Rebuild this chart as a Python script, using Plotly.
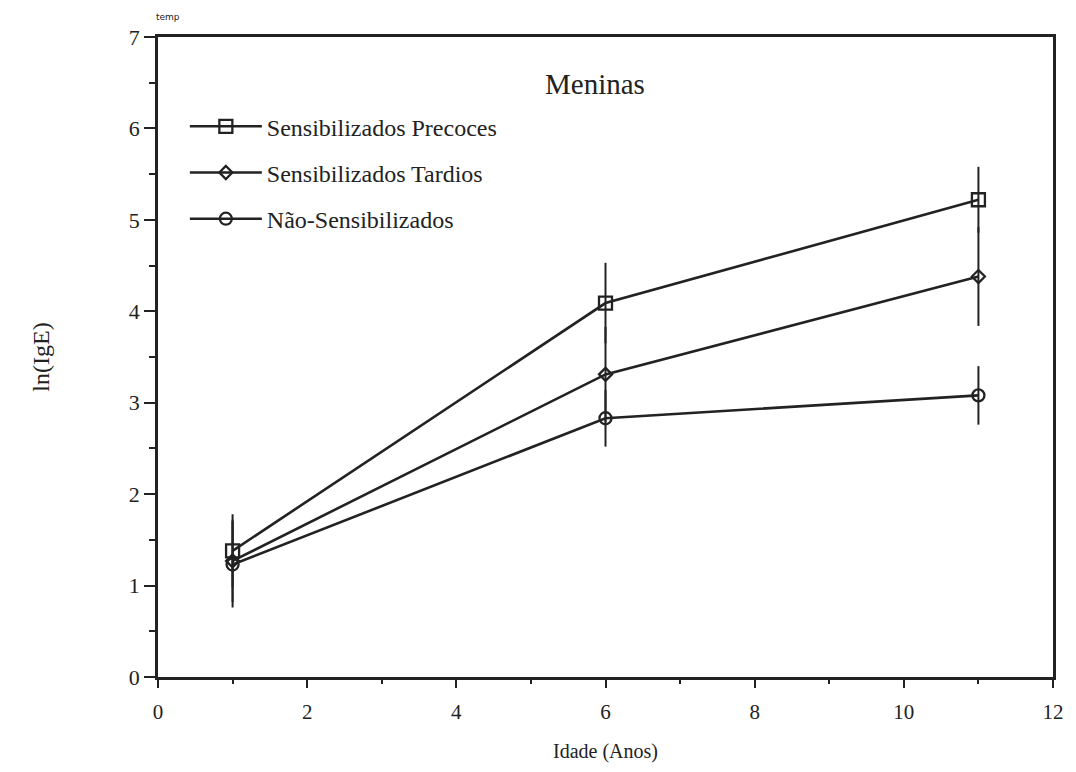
import plotly.graph_objects as go

ages = [1, 6, 11]
precoces = [1.38, 4.09, 5.22]
precoces_err = [0.40, 0.44, 0.36]
tardios = [1.27, 3.31, 4.38]
tardios_err = [0.45, 0.52, 0.54]
nao_sens = [1.23, 2.83, 3.08]
nao_sens_err = [0.47, 0.31, 0.32]

names = ["Sensibilizados Precoces", "Sensibilizados Tardios", "Não-Sensibilizados"]
symbols = ["square-open", "diamond-open", "circle-open"]
sizes = [13, 10, 12]
series = [precoces, tardios, nao_sens]
errors = [precoces_err, tardios_err, nao_sens_err]

ink = "#222222"
font = "Liberation Serif, Times New Roman, serif"

fig = go.Figure()
for i, (name, ys, es) in enumerate(zip(names, series, errors)):
    fig.add_trace(go.Scatter(
        x=ages, y=ys, name=name, mode="lines+markers",
        legendgroup=f"g{i}",
        line=dict(color=ink, width=2.6),
        marker=dict(symbol=symbols[i], size=sizes[i], color=ink,
                    line=dict(color=ink, width=2.3)),
        error_y=dict(type="data", array=es, color=ink, thickness=2, width=0),
    ))

fig.update_layout(
    width=1076, height=772,
    margin=dict(l=158, r=19, t=37, b=90),
    paper_bgcolor="white", plot_bgcolor="white",
    font=dict(family=font, color=ink, size=18),
    showlegend=True,
    legend=dict(x=0.03, y=0.895, xanchor="left", yanchor="top",
                bgcolor="rgba(0,0,0,0)", font=dict(size=24, family=font),
                traceorder="grouped", tracegroupgap=12, itemwidth=72),
    annotations=[
        dict(text="Meninas", x=0.488, y=0.955, xref="paper", yref="paper",
             showarrow=False, font=dict(size=29, family=font, color=ink)),
        dict(text="temp", x=-0.005, y=1.02, xref="paper", yref="paper",
             xanchor="left", yanchor="bottom", showarrow=False,
             font=dict(size=9, family="DejaVu Sans", color=ink)),
    ],
)
fig.update_xaxes(
    range=[0, 12], dtick=2, tick0=0, showgrid=False, zeroline=False,
    showline=True, linecolor=ink, linewidth=2.5, mirror=True,
    ticks="outside", ticklen=8, tickwidth=1.5, tickcolor=ink,
    minor=dict(dtick=1, ticks="outside", ticklen=4, tickcolor=ink),
    ticklabelstandoff=6,
    tickfont=dict(size=21, family=font),
    title=dict(text="Idade (Anos)", font=dict(size=20, family=font), standoff=22),
)
fig.update_yaxes(
    range=[0, 7], dtick=1, tick0=0, showgrid=False, zeroline=False,
    showline=True, linecolor=ink, linewidth=2.5, mirror=True,
    ticks="outside", ticklen=11, tickwidth=1.5, tickcolor=ink,
    minor=dict(dtick=0.5, ticks="outside", ticklen=6, tickcolor=ink),
    tickfont=dict(size=22, family=font),
    title=dict(text="ln(IgE)", font=dict(size=24, family=font), standoff=73),
)

fig.write_html("out.html")
